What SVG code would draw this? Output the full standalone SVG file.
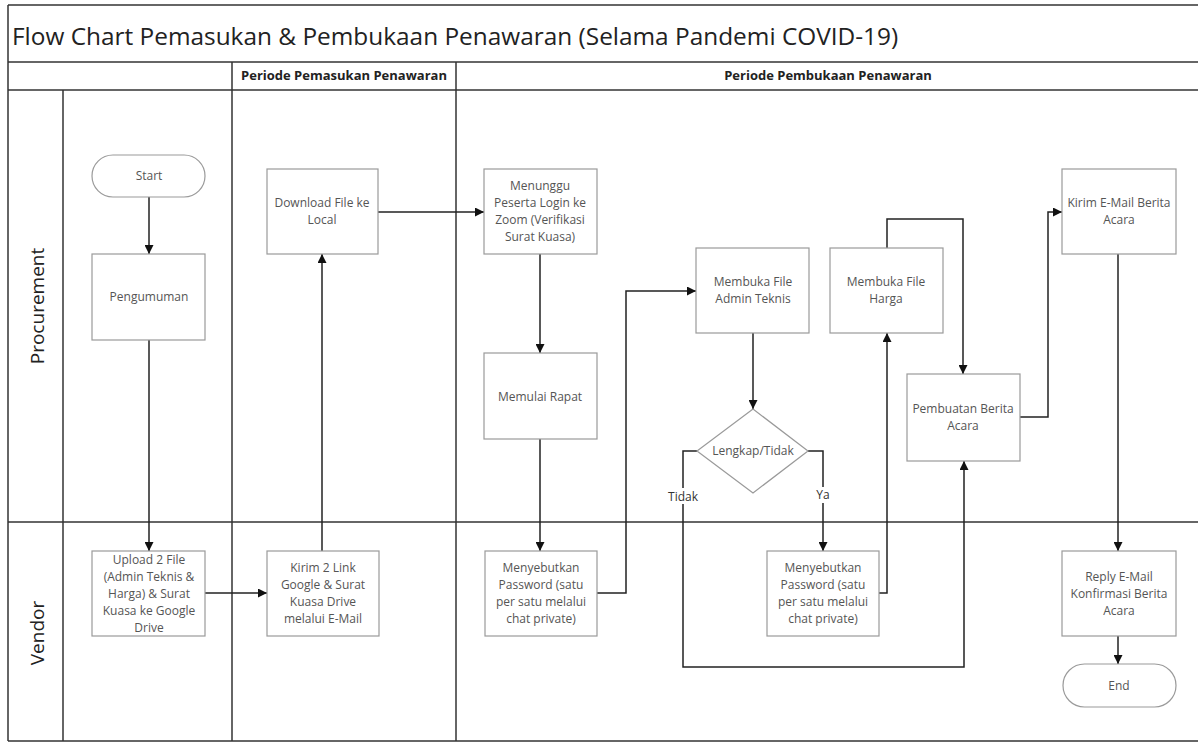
<svg xmlns="http://www.w3.org/2000/svg" width="1198" height="743" viewBox="0 0 1198 743">
<style>
.frame{stroke:#333;stroke-width:1.5;fill:none}
.box{fill:#fff;stroke:#9a9a9a;stroke-width:1.2}
.t{font-family:"Open Sans","Liberation Sans",sans-serif;font-size:12px;fill:#555;text-anchor:middle}
.hdr{font-family:"Open Sans","Liberation Sans",sans-serif;font-size:13px;font-weight:bold;fill:#222;text-anchor:middle}
.lane{font-family:"Open Sans","Liberation Sans",sans-serif;font-size:19px;fill:#222;text-anchor:middle}
.lbl{font-family:"Open Sans","Liberation Sans",sans-serif;font-size:12px;fill:#333;text-anchor:middle}
.c{fill:none;stroke:#222;stroke-width:1.5;marker-end:url(#ah)}
</style>
<defs>
<marker id="ah" viewBox="0 0 10 10" refX="10" refY="5" markerWidth="9" markerHeight="9" markerUnits="userSpaceOnUse" orient="auto">
<path d="M0,0 L10,5 L0,10 z" fill="#111"/>
</marker>
</defs>
<rect width="1198" height="743" fill="#fff"/>
<g id="frame">
<line class="frame" x1="8" y1="5" x2="1198" y2="5"/>
<line class="frame" x1="8" y1="62" x2="1198" y2="62"/>
<line class="frame" x1="8" y1="90" x2="1198" y2="90"/>
<line class="frame" x1="8" y1="522" x2="1198" y2="522"/>
<line class="frame" x1="8" y1="741" x2="1198" y2="741" stroke="#999"/>
<line class="frame" x1="8" y1="5" x2="8" y2="741"/>
<line class="frame" x1="63" y1="90" x2="63" y2="741"/>
<line class="frame" x1="232" y1="62" x2="232" y2="741"/>
<line class="frame" x1="456" y1="62" x2="456" y2="741"/>
<text x="12" y="45" font-family="'Open Sans','Liberation Sans',sans-serif" font-size="24.4" fill="#222">Flow Chart Pemasukan &amp; Pembukaan Penawaran (Selama Pandemi COVID-19)</text>
<text class="hdr" x="344" y="80">Periode Pemasukan Penawaran</text>
<text class="hdr" x="828" y="80">Periode Pembukaan Penawaran</text>
<text class="lane" transform="translate(44,306) rotate(-90)">Procurement</text>
<text class="lane" transform="translate(44,633) rotate(-90)">Vendor</text>
</g>
<g id="connectors">
<path class="c" d="M149,197 V254"/>
<path class="c" d="M149,340 V551"/>
<path class="c" d="M205,593 H267"/>
<path class="c" d="M322,551 V254"/>
<path class="c" d="M378,212 H484"/>
<path class="c" d="M540,254 V353"/>
<path class="c" d="M540,439 V551"/>
<path class="c" d="M597,593 H626 V291 H696"/>
<path class="c" d="M753,333 V409"/>
<path class="c" d="M697,451 H683 V667 H964 V461"/>
<path class="c" d="M808,451 H823 V551"/>
<path class="c" d="M879,593 H887 V333"/>
<path class="c" d="M887,248 V219 H963 V374"/>
<path class="c" d="M1020,417 H1048 V212 H1062"/>
<path class="c" d="M1118,254 V551"/>
<path class="c" d="M1118,636 V664"/>
<rect x="666" y="488" width="34" height="16" fill="#fff"/>
<text class="lbl" x="683" y="501">Tidak</text>
<rect x="814" y="487" width="18" height="16" fill="#fff"/>
<text class="lbl" x="823" y="499">Ya</text>
</g>
<g id="start">
<rect class="box" x="92" y="155" width="113" height="42" rx="21" ry="21"/>
<text class="t" x="149" y="180">Start</text>
</g>
<g id="pengumuman">
<rect class="box" x="92" y="254" width="113" height="86"/>
<text class="t" x="149" y="301">Pengumuman</text>
</g>
<g id="upload">
<rect class="box" x="92" y="551" width="113" height="85"/>
<text class="t" x="149" y="564">Upload 2 File</text>
<text class="t" x="149" y="581">(Admin Teknis &amp;</text>
<text class="t" x="149" y="598">Harga) &amp; Surat</text>
<text class="t" x="149" y="615">Kuasa ke Google</text>
<text class="t" x="149" y="632">Drive</text>
</g>
<g id="download">
<rect class="box" x="267" y="169" width="111" height="85"/>
<text class="t" x="322" y="207">Download File ke</text>
<text class="t" x="322" y="224">Local</text>
</g>
<g id="kirim-link">
<rect class="box" x="267" y="551" width="112" height="85"/>
<text class="t" x="323" y="572">Kirim 2 Link</text>
<text class="t" x="323" y="589">Google &amp; Surat</text>
<text class="t" x="323" y="606">Kuasa Drive</text>
<text class="t" x="323" y="623">melalui E-Mail</text>
</g>
<g id="menunggu">
<rect class="box" x="484" y="169" width="113" height="85"/>
<text class="t" x="540" y="190">Menunggu</text>
<text class="t" x="540" y="207">Peserta Login ke</text>
<text class="t" x="540" y="224">Zoom (Verifikasi</text>
<text class="t" x="540" y="241">Surat Kuasa)</text>
</g>
<g id="memulai">
<rect class="box" x="484" y="353" width="113" height="86"/>
<text class="t" x="540" y="401">Memulai Rapat</text>
</g>
<g id="password1">
<rect class="box" x="485" y="551" width="112" height="85"/>
<text class="t" x="541" y="572">Menyebutkan</text>
<text class="t" x="541" y="589">Password (satu</text>
<text class="t" x="541" y="606">per satu melalui</text>
<text class="t" x="541" y="623">chat private)</text>
</g>
<g id="admin-teknis">
<rect class="box" x="696" y="248" width="113" height="85"/>
<text class="t" x="753" y="286">Membuka File</text>
<text class="t" x="753" y="303">Admin Teknis</text>
</g>
<g id="lengkap">
<polygon class="box" points="753,409 808,451 753,493 697,451"/>
<text class="t" x="753" y="455">Lengkap/Tidak</text>
</g>
<g id="password2">
<rect class="box" x="767" y="551" width="112" height="85"/>
<text class="t" x="823" y="572">Menyebutkan</text>
<text class="t" x="823" y="589">Password (satu</text>
<text class="t" x="823" y="606">per satu melalui</text>
<text class="t" x="823" y="623">chat private)</text>
</g>
<g id="harga">
<rect class="box" x="830" y="248" width="113" height="85"/>
<text class="t" x="886" y="286">Membuka File</text>
<text class="t" x="886" y="303">Harga</text>
</g>
<g id="pembuatan">
<rect class="box" x="907" y="374" width="113" height="87"/>
<text class="t" x="963" y="413">Pembuatan Berita</text>
<text class="t" x="963" y="430">Acara</text>
</g>
<g id="kirim-email">
<rect class="box" x="1062" y="169" width="114" height="85"/>
<text class="t" x="1119" y="207">Kirim E-Mail Berita</text>
<text class="t" x="1119" y="224">Acara</text>
</g>
<g id="reply">
<rect class="box" x="1062" y="551" width="114" height="85"/>
<text class="t" x="1119" y="581">Reply E-Mail</text>
<text class="t" x="1119" y="598">Konfirmasi Berita</text>
<text class="t" x="1119" y="615">Acara</text>
</g>
<g id="end">
<rect class="box" x="1063" y="664" width="113" height="43" rx="21.5" ry="21.5"/>
<text class="t" x="1119" y="690">End</text>
</g>
</svg>
